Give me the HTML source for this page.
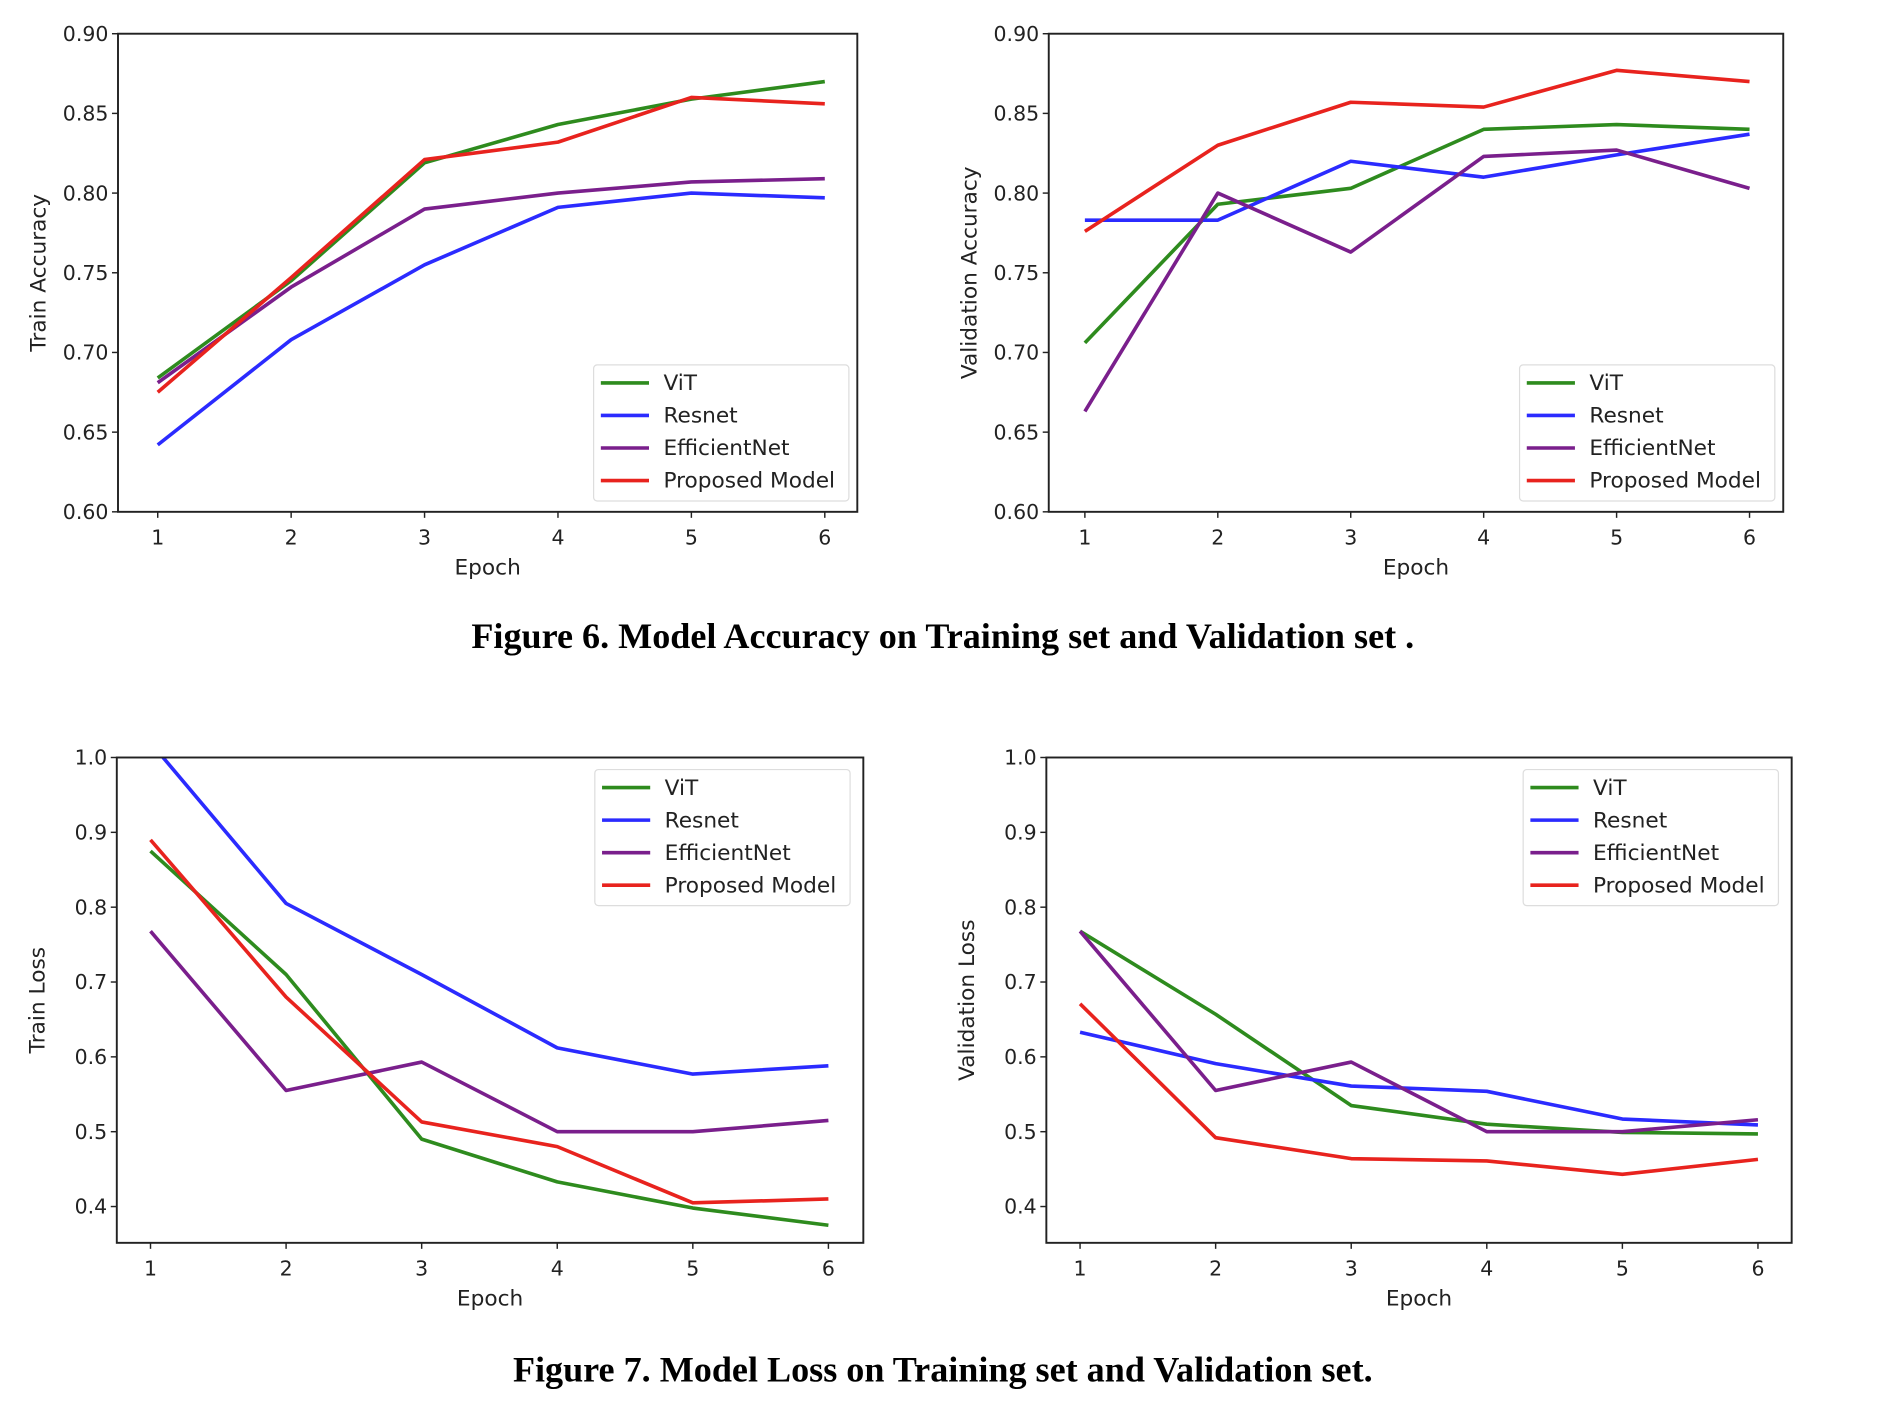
<!DOCTYPE html>
<html><head><meta charset="utf-8">
<style>
html,body{margin:0;padding:0;background:#fff;}
svg{display:block;}
text{font-family:"DejaVu Sans","Liberation Sans",sans-serif;fill:#222;}
.cap{font-family:"Liberation Serif",serif;font-weight:bold;fill:#000;}
</style></head>
<body>
<svg id="fig" width="1888" height="1403" viewBox="0 0 1568 1165" preserveAspectRatio="none" xmlns="http://www.w3.org/2000/svg">
<text class="cap" x="783" y="538" font-size="30" text-anchor="middle">Figure 6. Model Accuracy on Training set and Validation set .</text>
<text class="cap" x="783" y="1147" font-size="30" text-anchor="middle">Figure 7. Model Loss on Training set and Validation set.</text>
</svg>
<script>
const epochs = [1,2,3,4,5,6];
const seriesNames = ["ViT","Resnet","EfficientNet","Proposed Model"];
const seriesColors = ["#2e8b1e","#2b2bff","#7a1f8c","#e8231e"];
const trainAccVit = [0.684,0.745,0.819,0.843,0.859,0.870];
const trainAccResnet = [0.642,0.708,0.755,0.791,0.800,0.797];
const trainAccEff = [0.681,0.741,0.790,0.800,0.807,0.809];
const trainAccProp = [0.675,0.747,0.821,0.832,0.860,0.856];
const valAccVit = [0.706,0.793,0.803,0.840,0.843,0.840];
const valAccResnet = [0.783,0.783,0.820,0.810,0.824,0.837];
const valAccEff = [0.663,0.800,0.763,0.823,0.827,0.803];
const valAccProp = [0.776,0.830,0.857,0.854,0.877,0.870];
const trainLossVit = [0.875,0.710,0.490,0.433,0.398,0.375];
const trainLossResnet = [1.02,0.805,0.710,0.612,0.577,0.588];
const trainLossEff = [0.768,0.555,0.593,0.500,0.500,0.515];
const trainLossProp = [0.890,0.680,0.513,0.480,0.405,0.410];
const valLossVit = [0.768,0.657,0.535,0.510,0.499,0.497];
const valLossResnet = [0.633,0.591,0.561,0.554,0.517,0.509];
const valLossEff = [0.768,0.555,0.593,0.500,0.500,0.516];
const valLossProp = [0.671,0.492,0.464,0.461,0.443,0.463];
const accTicks = [0.60,0.65,0.70,0.75,0.80,0.85,0.90];
const accTickLabels = ["0.60","0.65","0.70","0.75","0.80","0.85","0.90"];
const lossTicks = [0.4,0.5,0.6,0.7,0.8,0.9,1.0];
const lossTickLabels = ["0.4","0.5","0.6","0.7","0.8","0.9","1.0"];

const NS="http://www.w3.org/2000/svg";
const svg=document.getElementById('fig');
function mk(tag,attrs,parent){const e=document.createElementNS(NS,tag);for(const k in attrs)e.setAttribute(k,attrs[k]);(parent||svg).appendChild(e);return e;}

function chart(cfg,idx){
  const g=mk('g',{});
  
  
  const xs=v=>cfg.x1+(v-1)*(cfg.x6-cfg.x1)/5;
  const ys=v=>cfg.bot+(v-cfg.ymin)*(cfg.top-cfg.bot)/(cfg.ymax-cfg.ymin);
  const cid='clip'+idx;
  const cp=mk('clipPath',{id:cid},g);
  mk('rect',{x:cfg.L,y:cfg.top,width:cfg.R-cfg.L,height:cfg.bot-cfg.top},cp);
  cfg.ticks.forEach((t,i)=>{
    const y=ys(t);
    const tk=mk('line',{x1:cfg.L-5,x2:cfg.L,y1:y,y2:y,stroke:'#222','stroke-width':1.2},g);
    
    
    const tl=mk('text',{x:cfg.L-8,y:y+6,'font-size':17,'text-anchor':'end'},g);
    tl.textContent=cfg.tickLabels[i];
    
    
  });
  epochs.forEach(e=>{
    const x=xs(e);
    const tk=mk('line',{x1:x,x2:x,y1:cfg.bot,y2:cfg.bot+5,stroke:'#222','stroke-width':1.2},g);
    
    
    const tl=mk('text',{x:x,y:cfg.bot+27,'font-size':17,'text-anchor':'middle'},g);
    tl.textContent=String(e);
    
    
  });
  const xt=mk('text',{x:(cfg.L+cfg.R)/2,y:cfg.bot+52,'font-size':18,'text-anchor':'middle'},g);
  xt.textContent='Epoch';
  
  
  const cy=(cfg.top+cfg.bot)/2;
  const yt=mk('text',{x:cfg.L-60,y:cy,'font-size':18,'text-anchor':'middle',transform:`rotate(-90 ${cfg.L-60} ${cy})`},g);
  yt.textContent=cfg.ylabel;
  
  
  cfg.series.forEach((arr,si)=>{
    const pts=arr.map((v,i)=>xs(epochs[i]).toFixed(1)+','+ys(v).toFixed(1)).join(' ');
    const pl=mk('polyline',{points:pts,fill:'none',stroke:seriesColors[si],'stroke-width':3,'stroke-linejoin':'round','clip-path':`url(#${cid})`},g);
    
    
  });
  const fr=mk('rect',{x:cfg.L,y:cfg.top,width:cfg.R-cfg.L,height:cfg.bot-cfg.top,fill:'none',stroke:'#222','stroke-width':1.6},g);
  
  
  const lg=mk('g',{},g);
  
  
  mk('rect',{x:cfg.lx,y:cfg.ly,width:212,height:113,rx:3,fill:'#fff',stroke:'#ddd','stroke-width':1},lg);
  seriesNames.forEach((n,i)=>{
    const yy=cfg.ly+15+i*27;
    const e=mk('g',{},lg);
    
    
    mk('line',{x1:cfg.lx+6,x2:cfg.lx+46,y1:yy,y2:yy,stroke:seriesColors[i],'stroke-width':3},e);
    const t=mk('text',{x:cfg.lx+58,y:yy+6,'font-size':18},e);
    t.textContent=n;
  });
}
chart({name:'train-accuracy-chart',L:98,R:712,top:28,bot:425,x1:131,x6:685,ymin:0.60,ymax:0.90,ticks:accTicks,tickLabels:accTickLabels,ylabel:'Train Accuracy',series:[trainAccVit,trainAccResnet,trainAccEff,trainAccProp],lx:493,ly:303},0);
chart({name:'validation-accuracy-chart',L:871,R:1481,top:28,bot:425,x1:901,x6:1453,ymin:0.60,ymax:0.90,ticks:accTicks,tickLabels:accTickLabels,ylabel:'Validation Accuracy',series:[valAccVit,valAccResnet,valAccEff,valAccProp],lx:1262,ly:303},1);
chart({name:'train-loss-chart',L:97,R:717,top:629,bot:1032,x1:125,x6:688,ymin:0.3515,ymax:1.0,ticks:lossTicks,tickLabels:lossTickLabels,ylabel:'Train Loss',series:[trainLossVit,trainLossResnet,trainLossEff,trainLossProp],lx:494,ly:639},2);
chart({name:'validation-loss-chart',L:869,R:1488,top:629,bot:1032,x1:897,x6:1460,ymin:0.3515,ymax:1.0,ticks:lossTicks,tickLabels:lossTickLabels,ylabel:'Validation Loss',series:[valLossVit,valLossResnet,valLossEff,valLossProp],lx:1265,ly:639},3);
</script>
</body></html>
